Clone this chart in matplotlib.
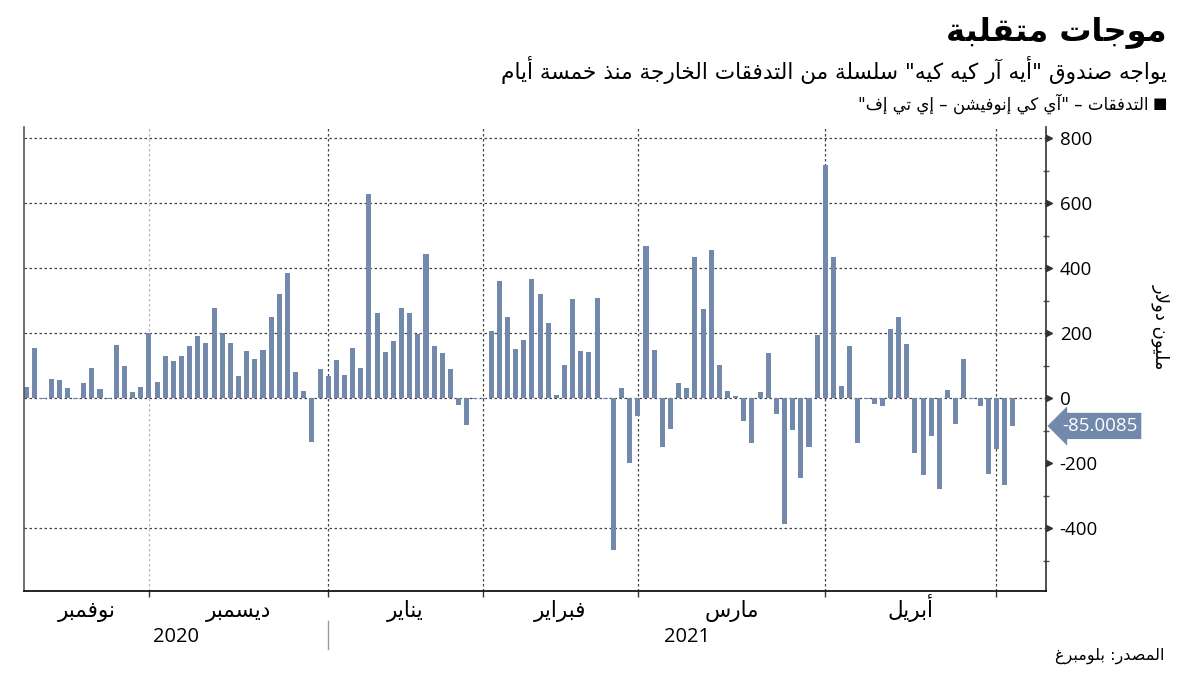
import matplotlib
matplotlib.use("Agg")
import matplotlib.pyplot as plt
import matplotlib.transforms as mtransforms
import numpy as np

# Data: daily flows (million USD), one bar per trading day
months = ["نوفمبر", "ديسمبر", "يناير", "فبراير", "مارس", "أبريل", ""]
month_days = [15, 22, 19, 19, 23, 21, 3]
years = ["2020", "2021"]
year_first_month = [0, 2]

flows_nov = [36, 154, -3, 59, 56, 31, -2, 47, 92, 28, -2, 163, 98, 18, 36]
flows_dec = [200, 50, 130, 116, 130, 160, 192, 169, 278, 200, 169, 69, 146, 122,
             149, 251, 320, 387, 80, 21, -135, 89]
flows_jan = [69, 119, 72, 154, 92, 629, 263, 143, 177, 277, 263, 199, 443, 160,
             138, 89, -21, -82, -1]
flows_feb = [-2, 207, 360, 251, 151, 181, 368, 320, 231, 9, 104, 305, 146, 143,
             308, -1, -466, 31, -200]
flows_mar = [-53, 468, 149, -150, -94, 47, 33, 435, 275, 457, 104, 22, 8, -71,
             -138, 18, 139, -47, -386, -96, -244, -150, 195]
flows_apr = [719, 436, 39, 162, -137, -2, -17, -24, 212, 251, 166, -167, -235,
             -117, -279, 25, -78, 121, -2, -24, -232]
flows_may = [-156, -267, -85.0085]

yticks = [-400, -200, 0, 200, 400, 600, 800]
ygrid = [-400, 0, 200, 400, 600, 800]

title = "موجات متقلبة"
subtitle = 'يواجه صندوق "أيه آر كيه كيه" سلسلة من التدفقات الخارجة منذ خمسة أيام'
legend_label = 'التدفقات – "آي كي إنوفيشن – إي تي إف"'
ylabel = "مليون دولار"
source = "المصدر: بلومبرغ"

BAR = "#7289ab"
GRID = "#444444"

# Arabic shaping (matplotlib has no complex text layout)
LETTERS = "ءآأؤإئابةتثجحخدذرزسشصضطظعغفقكلمنهوىي"
COUNTS = [1, 2, 2, 2, 2, 4, 2, 4, 2, 4, 4, 4, 4, 4, 2, 2, 2, 2, 4, 4, 4, 4,
          4, 4, 4, 4, 4, 4, 4, 4, 4, 4, 4, 2, 2, 4]
FORMS = {}
code = 0xFE80
for ch, n in zip(LETTERS, COUNTS):
    FORMS[ch] = [chr(code + k) for k in range(n)]
    code += n
LAM_ALEF = {"آ": 0xFEF5, "أ": 0xFEF7, "إ": 0xFEF9, "ا": 0xFEFB}


def joins_next(ch):
    return ch in FORMS and len(FORMS[ch]) == 4


def ar(text):
    out = []
    i = 0
    while i < len(text):
        c = text[i]
        if c not in FORMS:
            out.append(c)
            i += 1
            continue
        conn_prev = i > 0 and joins_next(text[i - 1])
        if c == "ل" and i + 1 < len(text) and text[i + 1] in LAM_ALEF:
            out.append(chr(LAM_ALEF[text[i + 1]] + (1 if conn_prev else 0)))
            i += 2
            continue
        conn_next = joins_next(c) and i + 1 < len(text) and text[i + 1] in FORMS
        f = FORMS[c]
        if len(f) == 1:
            g = f[0]
        elif conn_prev and conn_next:
            g = f[3]
        elif conn_prev:
            g = f[1]
        elif conn_next:
            g = f[2]
        else:
            g = f[0]
        out.append(g)
        i += 1
    # visual order, keep digit runs left to right
    runs = []
    for g in out:
        ltr = g.isascii() and g.isalnum()
        if runs and ltr and runs[-1][0]:
            runs[-1][1].append(g)
        else:
            runs.append([ltr, [g]])
    return "".join("".join(r[1]) for r in reversed(runs))


AR_FONT = ["DejaVu Sans"]
NUM_FONT = ["Open Sans", "DejaVu Sans"]

flows = flows_nov + flows_dec + flows_jan + flows_feb + flows_mar + flows_apr + flows_may
x = np.arange(len(flows))
starts = np.cumsum([0] + month_days[:-1])

# Creating the figure
fig = plt.figure(figsize=(12, 6.75), dpi=100)
ax = fig.add_axes([0.0204, 0.1244, 0.8511, 0.6875])

xlim = (-0.27, 125.06)
ax.set_xlim(*xlim)
ax.set_ylim(-593, 835)

# Grid
for g in ygrid:
    ax.axhline(g, color=GRID, lw=0.9, ls=(0, (2, 2)), zorder=1)
for k, s in enumerate(starts[1:]):
    ax.axvline(s, color="#bbbbbb" if k == 0 else GRID, lw=0.9, ls=(0, (2, 2)), zorder=1)

# Bars
ax.bar(x, flows, width=0.62, color=BAR, zorder=2)

# Spines
ax.spines["top"].set_visible(False)
ax.spines["left"].set_color("#555555")
ax.spines["right"].set_color("#333333")
ax.spines["bottom"].set_color("#000000")
for s in ["left", "right", "bottom"]:
    ax.spines[s].set_linewidth(1.2)

# Y axis on the right
ax.yaxis.tick_right()
ax.set_yticks(yticks)
ax.set_yticklabels([str(v) for v in yticks], fontsize=13.5, family=NUM_FONT)
ax.set_yticks(np.arange(-500, 801, 200), minor=True)
ax.tick_params(axis="y", which="major", length=0, pad=10)
ax.tick_params(axis="y", which="minor", direction="inout", length=5, width=1, color="#555555")
tri = mtransforms.blended_transform_factory(ax.transAxes, ax.transData)
tri = tri + mtransforms.ScaledTranslation(3.5 / 100, 0, fig.dpi_scale_trans)
ax.plot([1] * len(yticks), yticks, ls="none", marker=">", ms=4.5, color="#333333",
        transform=tri, clip_on=False)
ax.set_ylabel(ar(ylabel), fontsize=13, family=AR_FONT, rotation=270, labelpad=20)
ax.yaxis.set_label_position("right")
ax.yaxis.set_label_coords(1.122, 0.57)

# X axis: month starts as ticks, month names in between
ax.set_xticks(starts[1:])
ax.set_xticklabels([""] * (len(starts) - 1))
ax.tick_params(axis="x", which="major", direction="out", length=4, width=1, color="#333333")
edges = [xlim[0]] + list(starts[1:]) + [xlim[1]]
centers = [(edges[k] + edges[k + 1]) / 2 for k in range(len(months))]
ax.set_xticks(centers, minor=True)
ax.set_xticklabels([ar(m) for m in months], minor=True, fontsize=15.5, family=AR_FONT)
ax.tick_params(axis="x", which="minor", length=0, pad=18.5)
for lbl in ax.get_xticklabels(minor=True):
    lbl.set_verticalalignment("baseline")

# Year labels with separator
bt = mtransforms.blended_transform_factory(ax.transData, ax.transAxes)
year_edges = [xlim[0], starts[year_first_month[1]], xlim[1]]
for k, yr in enumerate(years):
    ax.text((year_edges[k] + year_edges[k + 1]) / 2, -0.098, yr, transform=bt,
            ha="center", va="center", fontsize=14.5, family=NUM_FONT)
ax.plot([starts[year_first_month[1]]] * 2, [-0.065, -0.125], transform=bt, color="#999999",
        lw=1, clip_on=False)

# Last value tag
ax.annotate("%.4f" % flows[-1], xy=(1, flows[-1]), xycoords=tri,
            xytext=(9, 0), textcoords="offset points", ha="left", va="center",
            fontsize=13.5, family=NUM_FONT, color="white",
            bbox=dict(boxstyle="larrow,pad=0.22", fc=BAR, ec="none"))

# Titles
fig.text(0.9725, 0.953, ar(title), ha="right", va="center", fontsize=23,
         fontweight="bold", family=AR_FONT)
fig.text(0.9725, 0.896, ar(subtitle), ha="right", va="center", fontsize=15.6, family=AR_FONT)
fig.text(0.9725, 0.846, "■", ha="right", va="center", fontsize=11, family=AR_FONT)
fig.text(0.957, 0.846, ar(legend_label), ha="right", va="center", fontsize=12,
         family=AR_FONT)
fig.text(0.9705, 0.028, ar(source), ha="right", va="center", fontsize=11.5, family=AR_FONT)

plt.savefig("out.png", dpi=100)
plt.close()
